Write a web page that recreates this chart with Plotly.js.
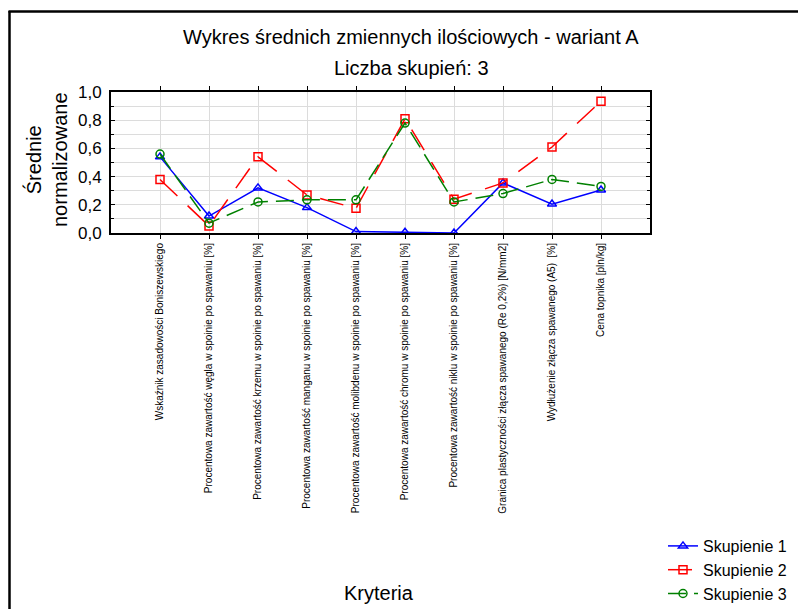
<!DOCTYPE html>
<html>
<head>
<meta charset="utf-8">
<script src="https://cdn.plot.ly/plotly-3.0.1.min.js"></script>
<style>html,body{margin:0;padding:0;background:#fff;overflow:hidden;}#chart{width:799px;height:609px;}</style>
</head>
<body>
<div id="chart"></div>
<script>
const categories = [
  "Wskaźnik zasadowości Boniszewskiego",
  "Procentowa zawartość węgla w spoinie po spawaniu [%]",
  "Procentowa zawartość krzemu w spoinie po spawaniu [%]",
  "Procentowa zawartość manganu w spoinie po spawaniu [%]",
  "Procentowa zawartość molibdenu w spoinie po spawaniu [%]",
  "Procentowa zawartość chromu w spoinie po spawaniu [%]",
  "Procentowa zawartość niklu w spoinie po spawaniu [%]",
  "Granica plastyczności złącza spawanego (Re 0,2%) [N/mm2]",
  "Wydłużenie złącza spawanego (A5)  [%]",
  "Cena topnika [pln/kg]"
];
const skupienie1 = [0.54, 0.12, 0.32, 0.18, 0.01, 0.005, 0.0, 0.355, 0.205, 0.305];
const skupienie2 = [0.38, 0.05, 0.54, 0.27, 0.175, 0.81, 0.24, 0.355, 0.61, 0.935];
const skupienie3 = [0.56, 0.07, 0.22, 0.235, 0.235, 0.78, 0.22, 0.28, 0.38, 0.33];
const seriesNames = ["Skupienie 1", "Skupienie 2", "Skupienie 3"];
const yTickVals = [0, 0.2, 0.4, 0.6, 0.8, 1.0];
const yTickText = ["0,0", "0,2", "0,4", "0,6", "0,8", "1,0"];
const titleLine1 = "Wykres średnich zmiennych ilościowych - wariant A";
const titleLine2 = "Liczba skupień: 3";
const yTitle = "Średnie<br>normalizowane";
const xTitle = "Kryteria";

const idx = categories.map((c, i) => i);
const font = "Liberation Sans, Arial, sans-serif";

const traces = [
  {x: idx, y: skupienie1, name: seriesNames[0], mode: "lines+markers",
   line: {color: "#0000ff", width: 1.5},
   marker: {symbol: "triangle-up-open", size: 8, color: "#0000ff", line: {width: 1.5}}},
  {x: idx, y: skupienie2, name: seriesNames[1], mode: "lines+markers",
   line: {color: "#ff0000", width: 1.5, dash: "24px,14px"},
   marker: {symbol: "square-open", size: 8, color: "#ff0000", line: {width: 1.5}}},
  {x: idx, y: skupienie3, name: seriesNames[2], mode: "lines+markers",
   line: {color: "#008000", width: 1.5, dash: "18px,8px"},
   marker: {symbol: "circle-open", size: 8, color: "#008000", line: {width: 1.5}}}
];

const L = 111, R = 650, T = 92, B = 233, W = 799, H = 609;
const pw = R - L, ph = B - T;
const px = v => (v - L) / pw;
const py = v => (B - v) / ph;
const layout = {
  width: W, height: H,
  margin: {l: L, r: W - R, t: T, b: H - B, pad: 0},
  paper_bgcolor: "#fff", plot_bgcolor: "#fff",
  font: {family: font, color: "#000"},
  showlegend: true,
  legend: {xref: "container", yref: "container", x: 663 / W, xanchor: "left", y: 1 - 529 / H, yanchor: "top",
           font: {size: 16, family: font}, bgcolor: "rgba(0,0,0,0)", tracegroupgap: 0, itemwidth: 30},
  xaxis: {
    range: [-1, 10], tickmode: "array", tickvals: idx, ticktext: categories,
    tickangle: -90, tickfont: {size: 10, family: font},
    showgrid: true, gridcolor: "#dcdcdc", gridwidth: 1,
    showline: true, linecolor: "#000", linewidth: 2, mirror: "ticks",
    ticks: "outside", ticklen: 4, tickcolor: "#000", zeroline: false,
    automargin: false, fixedrange: true
  },
  yaxis: {
    range: [0, 1.0], tickmode: "array", tickvals: yTickVals, ticktext: yTickText,
    tickfont: {size: 17, family: font}, ticklabelstandoff: 4,
    showgrid: true, gridcolor: "#dcdcdc", gridwidth: 1,
    showline: true, linecolor: "#000", linewidth: 2, mirror: "ticks",
    ticks: "inside", ticklen: 4, tickcolor: "#000", zeroline: false,
    minor: {dtick: 0.1, showgrid: true, gridcolor: "#dcdcdc", ticks: "inside", ticklen: 3, tickcolor: "#000"},
    automargin: false, fixedrange: true
  },
  shapes: [
    {type: "line", xref: "paper", yref: "paper", x0: px(9.5), x1: px(9.5), y0: py(11), y1: py(H + 5),
     line: {color: "#000", width: 2.5}, layer: "below"},
    {type: "line", xref: "paper", yref: "paper", x0: px(8.5), x1: px(W - 1), y0: py(11.5), y1: py(11.5),
     line: {color: "#000", width: 2.5}, layer: "below"}
  ],
  annotations: [
    {text: titleLine1, xref: "paper", yref: "paper", x: px(411), y: py(37),
     showarrow: false, font: {size: 20, family: font}, xanchor: "center", yanchor: "middle"},
    {text: titleLine2, xref: "paper", yref: "paper", x: px(411), y: py(68),
     showarrow: false, font: {size: 20, family: font}, xanchor: "center", yanchor: "middle"},
    {text: yTitle, xref: "paper", yref: "paper", x: px(46), y: py(160), textangle: -90,
     showarrow: false, font: {size: 20, family: font}, xanchor: "center", yanchor: "middle"},
    {text: xTitle, xref: "paper", yref: "paper", x: px(379), y: py(593),
     showarrow: false, font: {size: 20, family: font}, xanchor: "center", yanchor: "middle"}
  ]
};

Plotly.newPlot("chart", traces, layout, {displayModeBar: false, staticPlot: true});
</script>
</body>
</html>
